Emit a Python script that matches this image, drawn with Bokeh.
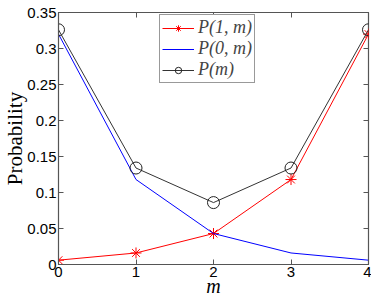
from bokeh.plotting import figure
from bokeh.models import FixedTicker, LinearAxis, Range1d, Legend, LegendItem, CustomJSTickFormatter
from bokeh.embed import file_html
from bokeh.resources import INLINE

m = [0, 1, 2, 3, 4]
p1m = [0.006, 0.016, 0.043, 0.118, 0.320]
p0m = [0.320, 0.118, 0.043, 0.016, 0.006]
pm = [0.326, 0.134, 0.086, 0.134, 0.326]

x_ticks = [0, 1, 2, 3, 4]
y_ticks = [0, 0.05, 0.1, 0.15, 0.2, 0.25, 0.3, 0.35]
y_tick_labels = ["0", "0.05", "0.1", "0.15", "0.2", "0.25", "0.3", "0.35"]

p = figure(frame_width=310, frame_height=252, output_backend="svg", toolbar_location=None,
           x_range=Range1d(0, 4), y_range=Range1d(0, 0.35),
           min_border_left=50, min_border_right=3, min_border_top=12, min_border_bottom=10)
p.grid.visible = False
p.outline_line_color = "#555555"
p.outline_line_width = 1.2

AX = "#555555"
for ax in (p.xaxis[0], p.yaxis[0]):
    ax.axis_line_color = AX
    ax.major_tick_line_color = AX
    ax.major_tick_in = 5
    ax.major_tick_out = 0
    ax.minor_tick_line_color = None
    ax.major_label_text_font = "Liberation Sans"
    ax.major_label_text_font_size = "15px"
    ax.major_label_text_color = "black"
    ax.axis_label_text_color = "black"

p.xaxis.major_label_standoff = 2
p.xaxis.axis_label_standoff = -5
p.yaxis.major_label_standoff = 2
p.yaxis.axis_label_standoff = -3

p.xaxis.ticker = FixedTicker(ticks=x_ticks)
p.yaxis.ticker = FixedTicker(ticks=y_ticks)
p.yaxis.major_label_overrides = {t: l for t, l in zip(y_ticks, y_tick_labels)}

p.xaxis.axis_label = "m"
p.xaxis.axis_label_text_font = "Liberation Serif"
p.xaxis.axis_label_text_font_style = "italic"
p.xaxis.axis_label_text_font_size = "20px"
p.yaxis.axis_label = "Probability"
p.yaxis.axis_label_text_font = "Liberation Serif"
p.yaxis.axis_label_text_font_style = "normal"
p.yaxis.axis_label_text_font_size = "21px"

# inward ticks on top and right (box style)
blank = CustomJSTickFormatter(code="return ''")
top = LinearAxis(ticker=FixedTicker(ticks=x_ticks), formatter=blank,
                 axis_line_color=None, major_tick_line_color=AX, major_tick_in=5,
                 major_tick_out=0, minor_tick_line_color=None, major_label_standoff=0)
right = LinearAxis(ticker=FixedTicker(ticks=y_ticks), formatter=blank,
                   axis_line_color=None, major_tick_line_color=AX, major_tick_in=5,
                   major_tick_out=0, minor_tick_line_color=None, major_label_standoff=0)
p.add_layout(top, "above")
p.add_layout(right, "right")

l1 = p.line(m, p1m, line_color="#ff0000", line_width=1)
s1 = p.scatter(m, p1m, marker="asterisk", size=11, line_color="#ff0000", line_width=1)
l0 = p.line(m, p0m, line_color="#0000ff", line_width=1)
l2 = p.line(m, pm, line_color="#333333", line_width=1)
s2 = p.scatter(m, pm, marker="circle", size=12, fill_color=None, line_color="#222222", line_width=1)

legend = Legend(items=[
    LegendItem(label="P(1, m)", renderers=[l1, s1]),
    LegendItem(label="P(0, m)", renderers=[l0]),
    LegendItem(label="P(m)", renderers=[l2, s2]),
], location=(101, 181))
legend.label_text_font = "Liberation Serif"
legend.label_text_font_style = "italic"
legend.label_text_font_size = "18px"
legend.label_height = 16
legend.glyph_height = 16
legend.glyph_width = 32
legend.spacing = 0
legend.padding = 2
legend.margin = 0
legend.label_standoff = 4
legend.border_line_color = "#333333"
legend.border_line_width = 1
legend.background_fill_alpha = 1
p.add_layout(legend)

open("out.html", "w").write(file_html(p, INLINE))
